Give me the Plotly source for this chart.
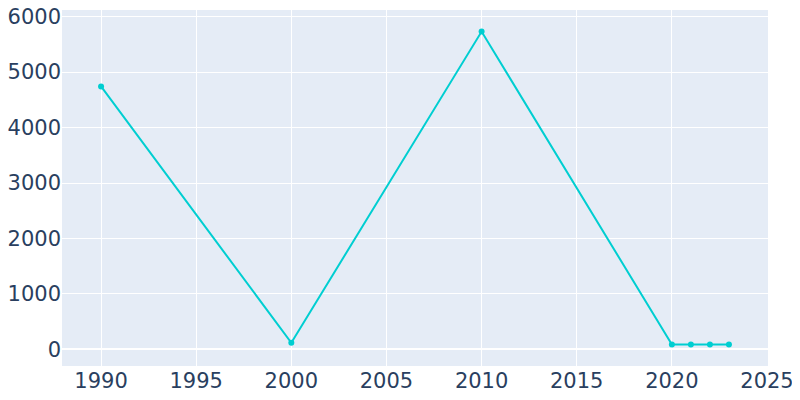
import plotly.graph_objects as go

years = [1990, 2000, 2010, 2020, 2021, 2022, 2023]
population = [4740, 121, 5730, 90, 90, 90, 90]

fig = go.Figure()
fig.add_trace(go.Scatter(
    x=years, y=population, mode="lines+markers",
    line=dict(color="#00CED1", width=2),
    marker=dict(color="#00CED1", size=6),
))
fig.update_layout(
    width=800, height=400,
    margin=dict(l=54, r=40, t=2, b=42),
    template="plotly",
    font=dict(size=21, family="DejaVu Sans"),
    showlegend=False,
)
fig.update_xaxes(tickvals=[1990, 1995, 2000, 2005, 2010, 2015, 2020, 2025],
                 automargin=False, ticklabeloverflow="allow")
fig.update_yaxes(automargin=False, ticklabeloverflow="allow")
fig.write_html("out.html")
